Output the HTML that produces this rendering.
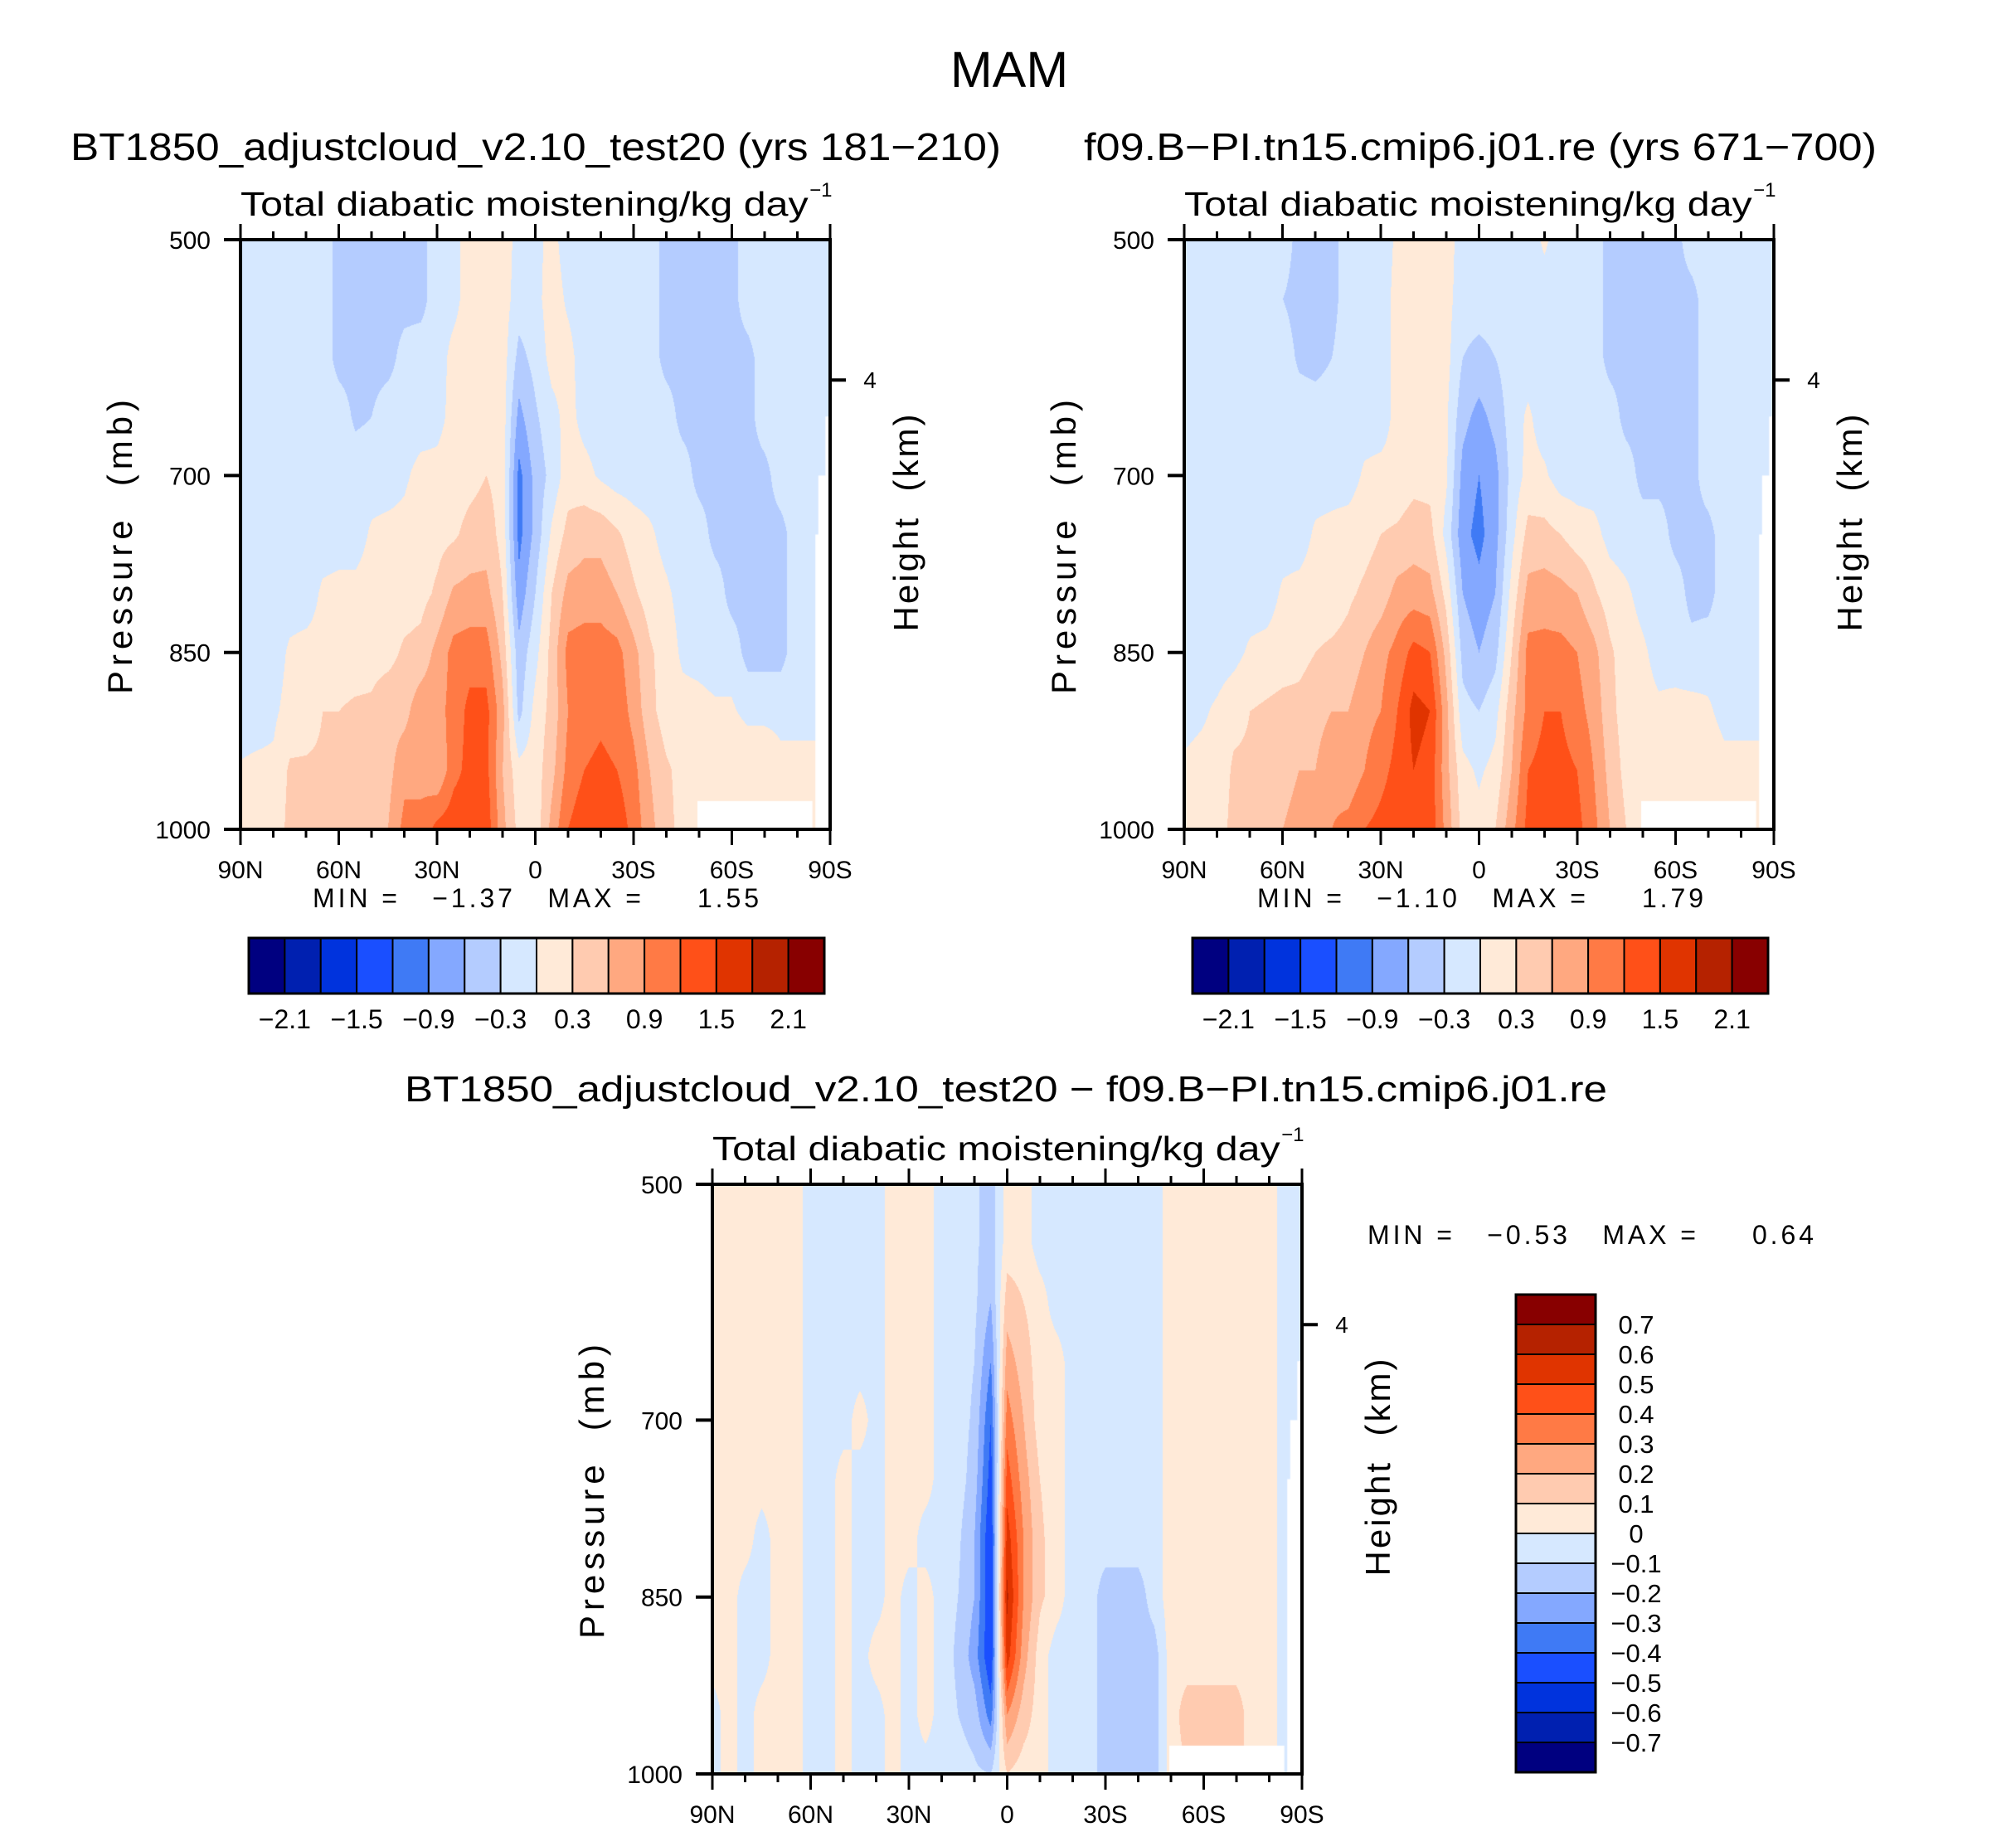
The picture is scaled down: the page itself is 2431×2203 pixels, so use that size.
<!DOCTYPE html>
<html><head><meta charset="utf-8">
<style>
html,body{margin:0;padding:0;background:#fff;}
#root{position:relative;width:2431px;height:2203px;overflow:hidden;background:#fff;font-family:"Liberation Sans",sans-serif;}
canvas{position:absolute;}
#ov{position:absolute;left:0;top:0;}
#ov text{white-space:pre;}
</style></head>
<body>
<div id="root">
<canvas id="cA" width="711" height="711" style="left:290px;top:289px"></canvas>
<canvas id="cB" width="711" height="711" style="left:1428px;top:289px"></canvas>
<canvas id="cD" width="711" height="711" style="left:859px;top:1428px"></canvas>
<svg id="ov" width="2431" height="2203" xmlns="http://www.w3.org/2000/svg"></svg>
</div>
<script>
const lats = [90,85,80,75,70,65,60,55,50,45,40,35,30,25,20,15,10,5,0,-5,-10,-15,-20,-25,-30,-35,-40,-45,-50,-55,-60,-65,-70,-75,-80,-85,-90];
const pressures = [500,550,600,650,700,750,800,850,900,950,1000];
const xTickLabels = ["90N","60N","30N","0","30S","60S","90S"];
const xTickLats = [90,60,30,0,-30,-60,-90];
const yTickLabels = ["500","700","850","1000"];
const yTickVals = [500,700,850,1000];
const levelsTop = [-2.1,-1.8,-1.5,-1.2,-0.9,-0.6,-0.3,0,0.3,0.6,0.9,1.2,1.5,1.8,2.1];
const levelsDiff = [-0.7,-0.6,-0.5,-0.4,-0.3,-0.2,-0.1,0,0.1,0.2,0.3,0.4,0.5,0.6,0.7];
const cbarTopLabels = ["−2.1","−1.5","−0.9","−0.3","0.3","0.9","1.5","2.1"];
const cbarDiffLabels = ["0.7","0.6","0.5","0.4","0.3","0.2","0.1","0","−0.1","−0.2","−0.3","−0.4","−0.5","−0.6","−0.7"];
const colors = ["#000080","#0020b0","#0033dd","#1a4fff","#3f7af5","#84a8ff","#b4ccff","#d6e8ff","#ffead8","#ffcbb0","#ffa880","#ff7a45","#ff5018","#e03400","#b52200","#880000"];

const fieldA = [
[-.15,-.15,-.15,-.15,-.15,-.15,-.4,-.4,-.4,-.4,-.4,-.4,-.15,-.1,.15,.15,.15,-.1,-.1,.1,-.15,-.15,-.15,-.15,-.15,-.15,-.4,-.4,-.4,-.4,-.4,-.15,-.15,-.15,-.15,-.15,-.15],
[-.15,-.15,-.15,-.15,-.15,-.15,-.4,-.4,-.4,-.4,-.4,-.4,-.15,-.1,.15,.15,.15,-.15,-.1,.15,-.05,-.15,-.15,-.15,-.15,-.15,-.4,-.4,-.4,-.4,-.4,-.15,-.15,-.15,-.15,-.15,-.15],
[-.15,-.15,-.15,-.15,-.15,-.15,-.4,-.4,-.4,-.4,-.2,-.15,-.15,.1,.15,.15,.15,-.4,-.2,.1,.1,-.15,-.15,-.15,-.15,-.15,-.4,-.4,-.4,-.4,-.4,-.4,-.15,-.15,-.15,-.15,-.15],
[-.15,-.15,-.15,-.15,-.15,-.15,-.15,-.35,-.3,-.15,-.15,-.15,-.1,.1,.15,.15,.15,-.7,-.35,-.1,.1,-.1,-.15,-.15,-.15,-.15,-.15,-.4,-.4,-.4,-.4,-.4,-.15,-.15,-.15,-.15,-.15],
[-.15,-.15,-.15,-.15,-.15,-.15,-.15,-.15,-.15,-.15,-.05,.1,.1,.15,.2,.3,.2,-1.0,-.5,-.2,.15,.1,-.05,-.15,-.15,-.15,-.15,-.15,-.4,-.4,-.4,-.4,-.4,-.15,-.15,-.15,-.15],
[-.15,-.15,-.15,-.15,-.15,-.15,-.15,-.15,.05,.1,.1,.2,.2,.25,.4,.45,.2,-1.0,-.5,.05,.4,.5,.5,.35,.15,.05,-.1,-.15,-.15,-.4,-.4,-.4,-.4,-.4,-.15,-.15,-.15],
[-.15,-.15,-.15,-.15,-.15,.05,.1,.1,.15,.15,.15,.2,.35,.65,.7,.7,.3,-.8,-.3,.3,.7,.75,.75,.6,.35,.15,.05,-.1,-.15,-.15,-.4,-.4,-.4,-.4,-.15,-.15,-.15],
[-.15,-.15,-.15,.05,.1,.1,.15,.15,.2,.2,.35,.4,.7,1.0,1.05,1.05,.5,-.5,-.1,.4,1.0,1.05,1.05,1.0,.7,.35,.15,-.05,-.1,-.15,-.15,-.4,-.4,-.4,-.15,-.15,-.15],
[-.1,-.1,-.05,.1,.15,.3,.3,.35,.35,.5,.5,.8,.8,1.0,1.3,1.3,.7,-.4,.1,.4,.9,1.1,1.15,1.1,.8,.4,.15,.1,.1,.05,.05,-.1,-.1,-.1,-.1,-.1,-.1],
[.02,.05,.05,.35,.35,.35,.4,.5,.5,.5,.8,.8,.6,1.1,1.3,1.3,.6,.1,.15,.5,1.0,1.2,1.25,1.2,1.0,.6,.35,.2,.2,.2,.3,.3,.3,.1,.1,.1,.1],
[.1,.1,.1,.4,.4,.4,.45,.6,.6,.6,1.0,1.0,1.3,1.4,1.4,1.4,.7,.2,.1,.7,1.2,1.4,1.4,1.4,1.1,.7,.4,.2,.2,.2,.2,.2,.2,.2,.2,.2,.2]];

const fieldB = [
[-.15,-.15,-.15,-.15,-.15,-.15,-.15,-.4,-.4,-.4,-.15,-.15,-.15,.05,.15,.15,.15,-.15,-.15,-.15,-.15,-.15,.05,-.15,-.15,-.15,-.4,-.4,-.4,-.4,-.4,-.15,-.15,-.15,-.15,-.15,-.15],
[-.15,-.15,-.15,-.15,-.15,-.15,-.3,-.4,-.4,-.4,-.15,-.15,-.15,.1,.15,.15,.1,-.15,-.15,-.15,-.15,-.15,-.15,-.15,-.15,-.15,-.4,-.4,-.4,-.4,-.4,-.4,-.15,-.15,-.15,-.15,-.15],
[-.15,-.15,-.15,-.15,-.15,-.15,-.15,-.35,-.4,-.3,-.15,-.15,-.15,.1,.15,.15,.1,-.3,-.4,-.3,-.15,-.15,-.15,-.15,-.15,-.15,-.4,-.4,-.4,-.4,-.4,-.4,-.15,-.15,-.15,-.15,-.15],
[-.15,-.15,-.15,-.15,-.15,-.15,-.15,-.15,-.15,-.15,-.15,-.15,-.15,.1,.15,.15,.05,-.5,-.7,-.5,-.15,.05,-.15,-.15,-.15,-.15,-.15,-.4,-.4,-.4,-.4,-.4,-.15,-.15,-.15,-.15,-.15],
[-.15,-.15,-.15,-.15,-.15,-.15,-.15,-.15,-.15,-.15,-.15,.05,.1,.1,.2,.2,.05,-.7,-.9,-.7,-.2,.1,.05,-.15,-.15,-.15,-.15,-.15,-.4,-.4,-.4,-.4,-.15,-.15,-.15,-.15,-.15],
[-.15,-.15,-.15,-.15,-.15,-.15,-.15,-.15,.05,.1,.15,.2,.3,.35,.45,.4,-.1,-.8,-1.0,-.7,-.1,.4,.4,.3,.15,.1,-.1,-.15,-.15,-.15,-.4,-.4,-.4,-.15,-.15,-.15,-.15],
[-.15,-.15,-.15,-.15,-.15,-.15,.05,.1,.15,.15,.25,.35,.45,.7,.75,.7,.2,-.6,-.8,-.6,.1,.7,.75,.7,.6,.35,.15,.05,-.1,-.15,-.15,-.4,-.4,-.15,-.15,-.15,-.15],
[-.15,-.15,-.15,-.1,.05,.1,.15,.2,.3,.35,.4,.6,.8,1.0,1.3,1.2,.5,-.4,-.6,-.4,.3,1.0,1.0,1.0,.9,.7,.35,.15,.05,-.1,-.15,-.2,-.15,-.15,-.15,-.15,-.15],
[-.1,-.05,.05,.2,.3,.35,.4,.4,.5,.6,.6,.8,.9,1.2,1.6,1.5,.7,-.2,-.3,-.1,.5,1.0,1.2,1.2,1.0,.8,.4,.15,.1,.05,.1,.1,.05,-.1,-.1,-.1,-.1],
[.05,.1,.1,.35,.35,.4,.5,.6,.6,.8,.7,.9,1.1,1.3,1.5,1.4,.7,.1,-.05,.1,.6,1.2,1.3,1.3,1.2,.9,.5,.2,.15,.2,.25,.3,.2,.1,.1,.1,.1],
[.1,.1,.15,.4,.4,.5,.6,.7,.7,.9,1.0,1.2,1.3,1.4,1.5,1.4,.8,.2,.1,.3,.8,1.3,1.4,1.4,1.3,1.0,.6,.3,.2,.2,.2,.2,.2,.2,.2,.2,.2]];

const fieldDiff = [
[.05,.05,.05,.05,.05,.05,-.05,-.05,-.05,-.05,-.05,.05,.05,.05,-.05,-.05,-.08,-.15,.05,.05,-.05,-.05,-.05,-.05,-.05,-.05,-.05,-.05,.05,.05,.05,.05,.05,.05,.05,-.05,-.05],
[.05,.05,.05,.05,.05,.05,-.05,-.05,-.05,-.05,-.05,.05,.05,.05,-.05,-.05,-.08,-.15,.05,.05,-.05,-.05,-.05,-.05,-.05,-.05,-.05,-.05,.05,.05,.05,.05,.05,.05,.05,-.05,-.05],
[.05,.05,.05,.05,.05,.05,-.05,-.05,-.05,-.05,-.05,.05,.05,.05,-.05,-.05,-.08,-.2,.15,.1,.05,-.05,-.05,-.05,-.05,-.05,-.05,-.05,.05,.05,.05,.05,.05,.05,.05,-.05,-.05],
[.05,.05,.05,.05,.05,.05,-.05,-.05,-.05,-.05,-.05,.05,.05,.05,-.05,-.05,-.1,-.3,.25,.15,.05,.05,-.05,-.05,-.05,-.05,-.05,-.05,.05,.05,.05,.05,.05,.05,.05,-.05,-.05],
[.05,.05,.05,.05,.05,.05,-.05,-.05,-.05,.05,-.05,.05,.05,.05,-.05,-.05,-.12,-.4,.35,.2,.05,.05,-.05,-.05,-.05,-.05,-.05,-.05,.05,.05,.05,.05,.05,.05,.05,-.05,-.05],
[.05,.05,.05,.05,.05,.05,-.05,-.05,.05,-.05,-.05,.05,.05,.05,-.05,-.05,-.15,-.45,.45,.25,.1,.05,-.05,-.05,-.05,-.05,-.05,-.05,.05,.05,.05,.05,.05,.05,.05,-.05,-.05],
[.05,.05,.05,-.05,.05,.05,-.05,-.05,.05,-.05,-.05,.05,.05,-.05,-.05,-.08,-.2,-.5,.55,.3,.12,.05,-.05,-.05,-.05,-.05,-.05,-.05,.05,.05,.05,.05,.05,.05,.05,-.05,-.05],
[.05,.05,-.05,-.05,.05,.05,-.05,-.05,.05,-.05,-.05,.05,-.05,.05,-.05,-.1,-.2,-.5,.62,.3,.12,.05,-.05,-.05,-.15,-.15,-.15,-.05,.05,.05,.05,.05,.05,.05,.05,-.05,-.05],
[.05,.05,-.05,-.05,.05,.05,-.05,-.05,.05,-.05,.05,.05,-.05,.05,-.05,-.12,-.25,-.5,.55,.25,.05,-.05,-.05,-.05,-.15,-.15,-.15,-.15,.05,.05,.05,.05,.05,.05,.05,-.05,-.05],
[-.05,.05,-.05,.05,.05,.05,-.05,-.05,.05,-.05,-.05,.05,-.05,.05,-.05,-.1,-.15,-.35,.3,.15,.05,-.05,-.05,-.05,-.15,-.15,-.15,-.15,.05,.15,.15,.15,.15,.05,.05,-.05,-.05],
[-.05,.05,-.05,.05,.05,.05,-.05,-.05,.05,-.05,-.05,.05,-.05,-.05,-.05,-.05,-.08,-.1,.1,.05,.05,-.05,-.05,-.05,-.15,-.15,-.15,-.15,.05,.1,.1,.1,.1,.1,.05,-.05,-.05]];

function drawField(id, field, levels){
  const cv=document.getElementById(id); const ctx=cv.getContext('2d');
  const W=cv.width,H=cv.height; const img=ctx.createImageData(W,H);
  const nx=lats.length-1, ny=pressures.length-1;
  const rgb=colors.map(c=>[parseInt(c.slice(1,3),16),parseInt(c.slice(3,5),16),parseInt(c.slice(5,7),16)]);
  for(let py=0;py<H;py++){
    const p=500+py/(H-1)*500;
    let gy=(p-pressures[0])/(pressures[ny]-pressures[0])*ny; let j=Math.min(ny-1,Math.floor(gy)); let fy=gy-j;
    for(let px=0;px<W;px++){
      const lat=90-px/(W-1)*180;
      let gx=(lats[0]-lat)/(lats[0]-lats[nx])*nx; let i=Math.min(nx-1,Math.floor(gx)); let fx=gx-i;
      const v=(field[j][i]*(1-fx)+field[j][i+1]*fx)*(1-fy)+(field[j+1][i]*(1-fx)+field[j+1][i+1]*fx)*fy;
      let k=0; while(k<levels.length && v>levels[k]) k++;
      const c=rgb[k]; const o=(py*W+px)*4;
      img.data[o]=c[0];img.data[o+1]=c[1];img.data[o+2]=c[2];img.data[o+3]=255;
    }
  }
  ctx.putImageData(img,0,0);
  ctx.fillStyle='#fff';
  ctx.fillRect(W*0.775,H*0.952,W*0.195,H*0.05);
  ctx.fillRect(W*0.992,H*0.30,W*0.01,H*0.7);
  ctx.fillRect(W*0.98,H*0.40,W*0.02,H*0.6);
  ctx.fillRect(W*0.975,H*0.50,W*0.025,H*0.5);
}
drawField('cA',fieldA,levelsTop);
drawField('cB',fieldB,levelsTop);
drawField('cD',fieldDiff,levelsDiff);

const NS='http://www.w3.org/2000/svg';
const svg=document.getElementById('ov');
function mk(tag,attrs,parent){const e=document.createElementNS(NS,tag);for(const k in attrs)e.setAttribute(k,attrs[k]);(parent||svg).appendChild(e);return e;}
function txt(s,x,y,size,anchor,name,extra){const t=mk('text',Object.assign({x:x,y:y,'font-size':size,'text-anchor':anchor||'middle','font-family':'Liberation Sans, sans-serif',fill:'#000'},extra||{}));t.textContent=s;


return t;}

txt('MAM',1217,105,61,'middle','figure-title');
txt('BT1850_adjustcloud_v2.10_test20 (yrs 181−210)',646,193,46,'middle','panel-a-title',{textLength:1122,lengthAdjust:'spacingAndGlyphs'});
txt('f09.B−PI.tn15.cmip6.j01.re (yrs 671−700)',1785,193,46,'middle','panel-b-title',{textLength:956,lengthAdjust:'spacingAndGlyphs'});
txt('BT1850_adjustcloud_v2.10_test20 − f09.B−PI.tn15.cmip6.j01.re',1213,1328,44,'middle','panel-diff-title',{textLength:1450,lengthAdjust:'spacingAndGlyphs'});

function panel(x0,y0,S,key,mm,mmx,mmy,mmw){
  const g=mk('g',{});
  
  
  const xs=lat=>x0+(90-lat)/180*S;
  const ys=p=>y0+(p-500)/500*S;
  txt('Total diabatic moistening/kg day',x0,y0-29,41,'start','subtitle-'+key,{textLength:S*0.963,lengthAdjust:'spacingAndGlyphs'});
  txt('−1',x0+S*0.965,y0-52,24,'start','units-exp-'+key);
  for(let lat=90;lat>=-90;lat-=10){
    const maj=(lat%30===0); const L=maj?19:10;
    const t1=mk('line',{x1:xs(lat),x2:xs(lat),y1:y0,y2:y0-L,stroke:'#000','stroke-width':3},g);
    
    
    const t2=mk('line',{x1:xs(lat),x2:xs(lat),y1:y0+S,y2:y0+S+L,stroke:'#000','stroke-width':3},g);
    
    
  }
  xTickLats.forEach((lat,k)=>{txt(xTickLabels[k],xs(lat),y0+S+59,30,'middle','x-tick-label-'+key);});
  yTickVals.forEach((p,k)=>{
    const t=mk('line',{x1:x0-20,x2:x0,y1:ys(p),y2:ys(p),stroke:'#000','stroke-width':4},g);
    
    
    txt(yTickLabels[k],x0-36,ys(p)+11,30,'end','y-tick-label-'+key);
  });
  const r=mk('rect',{x:x0,y:y0,width:S,height:S,fill:'none',stroke:'#000','stroke-width':4},g);
  
  
  const h4=ys(619);
  const tk=mk('line',{x1:x0+S,x2:x0+S+19,y1:h4,y2:h4,stroke:'#000','stroke-width':4},g);
  
  
  txt('4',x0+S+48,h4+10,28,'middle','height-tick-label-'+key);
  txt('Pressure  (mb)',x0-146,y0+S/2,42,'middle','y-axis-title-'+key,{transform:'rotate(-90 '+(x0-131)+' '+(y0+S/2)+')',textLength:355,lengthAdjust:'spacing'});
  txt('Height  (km)',x0+S+120,y0+S/2,42,'middle','right-axis-title-'+key,{transform:'rotate(-90 '+(x0+S+106)+' '+(y0+S/2)+')',textLength:262,lengthAdjust:'spacing'});
  txt(mm,mmx,mmy,32,'start','min-max-'+key,{textLength:mmw,lengthAdjust:'spacing'});
}
panel(290,289,711,'a','MIN =   −1.37   MAX =     1.55',377,1094,538);
panel(1428,289,711,'b','MIN =   −1.10   MAX =     1.79',1516,1094,538);
panel(859,1428,711,'diff','MIN =   −0.53   MAX =     0.64',1649,1500,538);

function hbar(x0,y0,W,H,key){
  const bw=W/colors.length;
  colors.forEach((c,k)=>{
    const r=mk('rect',{x:x0+k*bw,y:y0,width:bw,height:H,fill:c,stroke:'#000','stroke-width':2});
    
    
  });
  const f=mk('rect',{x:x0,y:y0,width:W,height:H,fill:'none',stroke:'#000','stroke-width':3});
  
  
  cbarTopLabels.forEach((s,k)=>{txt(s,x0+(1+2*k)*bw,y0+H+42,32,'middle','colorbar-label-'+key);});
}
hbar(300,1131,694,67,'a');
hbar(1438,1131,694,67,'b');

(function(){
  const x0=1828,y0=1561,W=96,bh=36;
  const rev=colors.slice().reverse();
  rev.forEach((c,k)=>{
    const r=mk('rect',{x:x0,y:y0+k*bh,width:W,height:bh,fill:c,stroke:'#000','stroke-width':2});
    
    
  });
  const f=mk('rect',{x:x0,y:y0,width:W,height:bh*16,fill:'none',stroke:'#000','stroke-width':3});
  
  
  cbarDiffLabels.forEach((s,k)=>{txt(s,1973,y0+(k+1)*bh+11,31,'middle','colorbar-label-diff');});
})();
</script>
</body></html>
